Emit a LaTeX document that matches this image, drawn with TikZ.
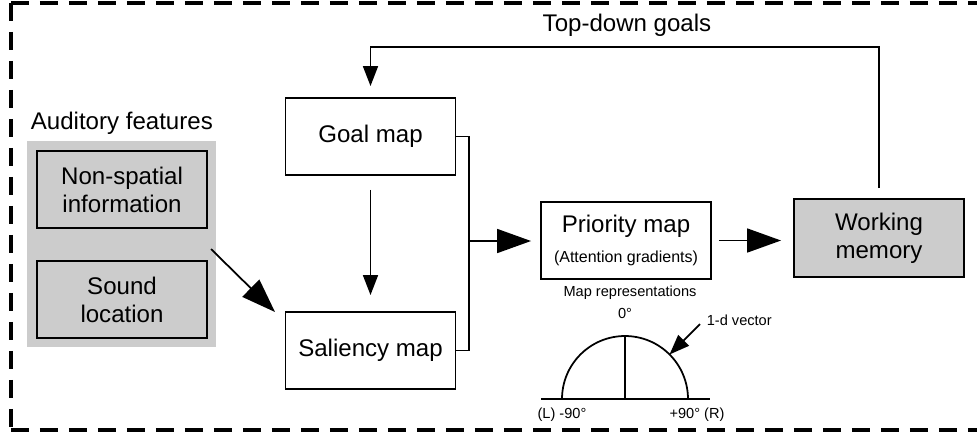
\documentclass[tikz,border=0pt]{standalone}
\usepackage{fontspec}
\setmainfont{Liberation Sans}
\usetikzlibrary{arrows.meta}
\definecolor{featgray}{gray}{0.8}
\newcommand\boxfont{\fontsize{13.7}{15.9}\selectfont}
\newcommand\gradfont{\fontsize{9.1}{11}\selectfont}
\newcommand\notefont{\fontsize{8.3}{10}\selectfont}

\begin{document}
\begin{tikzpicture}[x=0.02cm, y=-0.02cm, line width=1pt,
    box/.style={draw, line width=1.1pt, minimum width=3.4cm, minimum height=1.54cm,
        inner sep=0pt, align=center, font=\boxfont},
    grey box/.style={box, fill=featgray},
    big arrow/.style={-{Triangle[length=0.68cm, width=0.48cm]}},
    small arrow/.style={-{Triangle[length=0.4cm, width=0.3cm]}},
    note/.style={font=\notefont, inner sep=0pt}]
\useasboundingbox (0,0) rectangle (977,437);

% dashed frame (open on the right)
\begin{scope}[line width=2.3pt, dash pattern=on 0.36cm off 0.22cm]
\draw (11,3) -- (977,3);
\draw (11,3) -- (11,430);
\draw (11,430) -- (977,430);
\end{scope}

% auditory features
\node[fill=featgray, minimum width=3.78cm, minimum height=4.12cm, inner sep=0pt] (features) at (121.5,244) {};
\node[anchor=west, font=\boxfont, inner sep=0pt] (featlabel) at (30,123) {Auditory features};
\node[grey box] (nonspatial) at (122,189.5) {Non-spatial\\information};
\node[grey box] (location) at (122,299.5) {Sound\\location};

% maps
\node[box] (goal) at (370.5,136.5) {Goal map};
\node[box] (salience) at (370.5,350.5) {Saliency map};
\node[box] (priority) at (626,240.5) {Priority map\\[1.1pt]{\gradfont (Attention gradients)}};
\node[grey box, minimum height=1.56cm] (memory) at (879,238) {Working\\memory};
\node[font=\boxfont, inner sep=0pt] (goalslabel) at (627,25) {Top-down goals};

% connectors
\coordinate (looptop) at (0,47);
\draw[small arrow] ([yshift=0.2cm]memory.north) -- (memory.north |- looptop)
    -- (goal.north |- looptop) -- ([yshift=0.22cm]goal.north);
\draw[small arrow] ([yshift=-0.28cm]goal.south) -- ([yshift=0.32cm]salience.north);

\coordinate (join) at (469,241);
\draw (goal.east) -- (goal.east -| join) -- (salience.east -| join) -- (salience.east);
\draw[big arrow, shorten >=0.18cm] (join) -- (join -| priority.west);
\draw[big arrow, shorten <=0.14cm, shorten >=0.24cm] (priority.east) -- (priority.east -| memory.west);

\coordinate (featout) at (211,249);
\coordinate (salin) at (275,312);
\draw[big arrow] (featout) -- (salin);

% map representation
\node[note] (maprep) at (630,293) {Map representations};
\coordinate (origin) at (625,399);
\coordinate (axisl) at (541,399);
\coordinate (axisr) at (710,399);
\draw (axisl) -- (axisr);
\draw (origin) -- ++(0,-63);
\draw ([xshift=1.26cm]origin) arc[start angle=0, end angle=180, radius=1.26cm];
\node[note] (zero) at (625,313) {0°};
\node[note] (leftend) at (562,415) {(L) -90°};
\node[note] (rightend) at (697,415) {+90° (R)};
\node[note, anchor=west] (vectorlabel) at (706,320) {1-d vector};
\draw[small arrow] (700,324) -- ([shift={(45:1.26cm)}]origin);
\end{tikzpicture}
\end{document}
